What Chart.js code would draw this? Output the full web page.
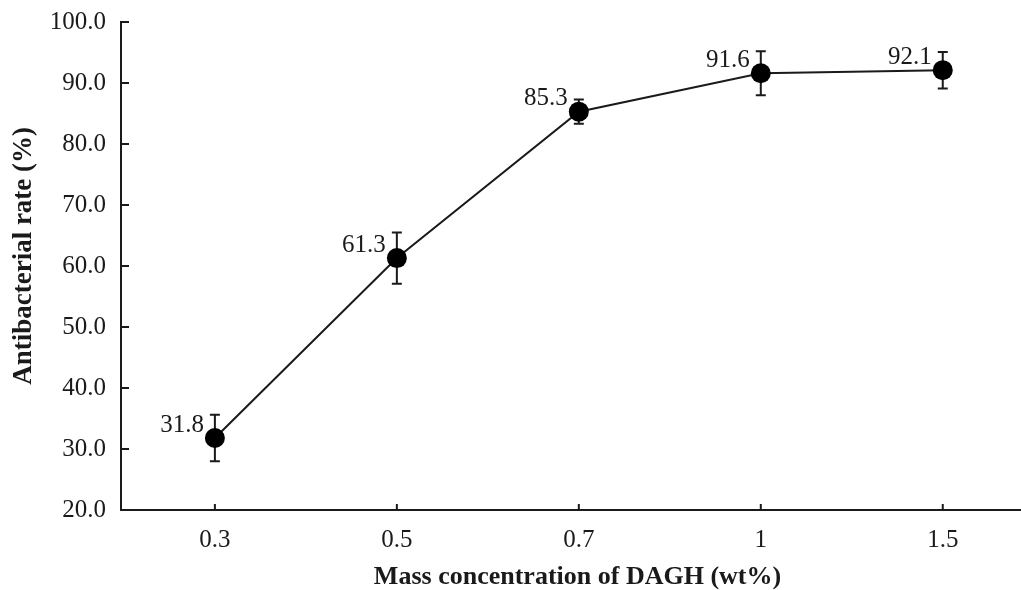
<!DOCTYPE html>
<html>
<head>
<meta charset="utf-8">
<script src="https://cdn.jsdelivr.net/npm/chart.js@4.4.1/dist/chart.umd.min.js"></script>
<style>
    html, body { margin: 0; padding: 0; background: #fff; overflow: hidden; }
    #wrap { width: 1021px; height: 590px; position: relative; }
</style>
</head>
<body>
<div id="wrap"><canvas id="rateChart"></canvas></div>
<script>
const categories = ['0.3', '0.5', '0.7', '1', '1.5'];
const rates = [31.8, 61.3, 85.3, 91.6, 92.1];
const errors = [3.8, 4.2, 2.0, 3.6, 3.0];
const yMin = 20, yMax = 100, yStep = 10;

const ink = '#1a1a1a';
const serif = "'Liberation Serif', 'Times New Roman', serif";

// inward tick marks on both axes
const innerTicks = {
    id: 'innerTicks',
    afterDraw(chart) {
        const { ctx, scales: { x, y } } = chart;
        ctx.save();
        ctx.strokeStyle = ink;
        ctx.lineWidth = 2;
        ctx.beginPath();
        for (let v = yMin; v <= yMax; v += yStep) {
            const py = y.getPixelForValue(v);
            ctx.moveTo(x.left, py);
            ctx.lineTo(x.left + 8, py);
        }
        categories.forEach((c, i) => {
            const px = x.getPixelForValue(i);
            ctx.moveTo(px, y.bottom);
            ctx.lineTo(px, y.bottom - 6);
        });
        ctx.stroke();
        ctx.restore();
    }
};

// error bars, drawn under the points
const errorBars = {
    id: 'errorBars',
    beforeDatasetsDraw(chart) {
        const { ctx, scales: { x, y } } = chart;
        ctx.save();
        ctx.strokeStyle = ink;
        ctx.lineWidth = 2;
        ctx.beginPath();
        rates.forEach((v, i) => {
            const px = x.getPixelForValue(i);
            const top = y.getPixelForValue(v + errors[i]);
            const bot = y.getPixelForValue(v - errors[i]);
            ctx.moveTo(px, top); ctx.lineTo(px, bot);
            ctx.moveTo(px - 5, top); ctx.lineTo(px + 5, top);
            ctx.moveTo(px - 5, bot); ctx.lineTo(px + 5, bot);
        });
        ctx.stroke();
        ctx.restore();
    }
};

// value labels up-left of each point
const valueLabels = {
    id: 'valueLabels',
    afterDatasetsDraw(chart) {
        const { ctx, scales: { x, y } } = chart;
        ctx.save();
        ctx.fillStyle = ink;
        ctx.font = "25px " + serif;
        ctx.textAlign = 'right';
        ctx.textBaseline = 'middle';
        rates.forEach((v, i) => {
            ctx.fillText(v.toFixed(1), x.getPixelForValue(i) - 11, y.getPixelForValue(v) - 13);
        });
        ctx.restore();
    }
};

new Chart(document.getElementById('rateChart'), {
    type: 'line',
    data: {
        datasets: [{
            data: rates.map((v, i) => ({ x: i, y: v })),
            borderColor: ink,
            borderWidth: 2,
            pointRadius: 10,
            pointBackgroundColor: '#000',
            pointBorderWidth: 0,
            tension: 0
        }]
    },
    options: {
        responsive: true,
        maintainAspectRatio: false,
        animation: false,
        layout: { autoPadding: false, padding: { top: 22, right: 0, left: 0, bottom: 0 } },
        plugins: { legend: { display: false }, tooltip: { enabled: false } },
        scales: {
            x: {
                type: 'linear',
                min: -0.516,
                max: 4.43,
                afterBuildTicks: s => { s.ticks = categories.map((c, i) => ({ value: i })); },
                afterFit: s => { s.height = 80; s.paddingLeft = 0; s.paddingRight = 0; },
                grid: { display: false, drawTicks: false },
                border: { display: true, color: ink, width: 2 },
                ticks: {
                    callback: v => categories[v],
                    color: ink,
                    font: { family: serif, size: 25 },
                    padding: 15,
                    maxRotation: 0
                },
                title: {
                    display: true,
                    text: '  Mass concentration of DAGH (wt%)',
                    color: ink,
                    font: { family: serif, size: 26, weight: 'bold', lineHeight: 1 },
                    padding: { top: 0, bottom: 0 }
                }
            },
            y: {
                min: yMin,
                max: yMax,
                afterFit: s => { s.width = 121; s.paddingTop = 0; s.paddingBottom = 0; },
                grid: { display: false, drawTicks: false },
                border: { display: true, color: ink, width: 2 },
                ticks: {
                    stepSize: yStep,
                    callback: v => v.toFixed(1),
                    color: ink,
                    font: { family: serif, size: 25 },
                    padding: 15
                },
                title: {
                    display: true,
                    text: '   Antibacterial rate (%)',
                    color: ink,
                    font: { family: serif, size: 27, weight: 'bold', lineHeight: 1 },
                    padding: { top: 11, bottom: 0 }
                }
            }
        }
    },
    plugins: [innerTicks, errorBars, valueLabels]
});
</script>
</body>
</html>
